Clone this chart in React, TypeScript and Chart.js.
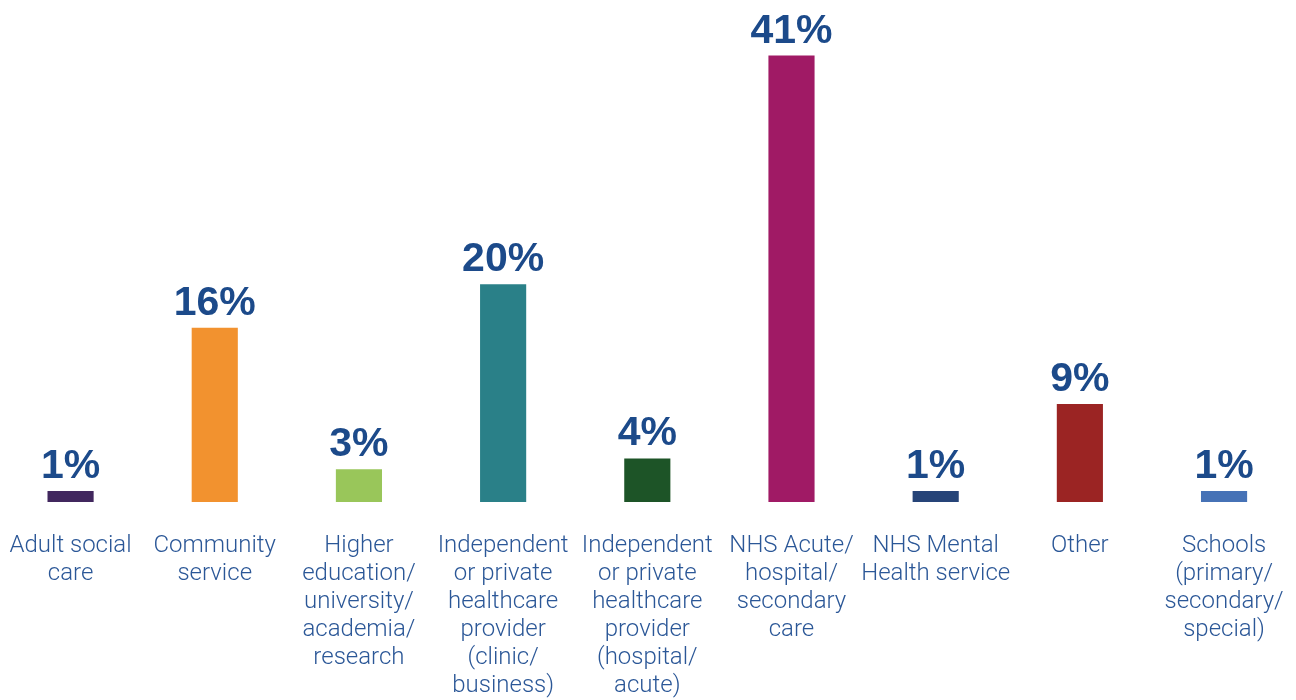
import React, { useEffect, useRef } from "react";
import { Chart, registerables } from "chart.js";

Chart.register(...registerables);

const categories: string[][] = [
  ["Adult social", "care"],
  ["Community", "service"],
  ["Higher", "education/", "university/", "academia/", "research"],
  ["Independent", "or private", "healthcare", "provider", "(clinic/", "business)"],
  ["Independent", "or private", "healthcare", "provider", "(hospital/", "acute)"],
  ["NHS Acute/", "hospital/", "secondary", "care"],
  ["NHS Mental", "Health service"],
  ["Other"],
  ["Schools", "(primary/", "secondary/", "special)"],
];
const values: number[] = [1, 16, 3, 20, 4, 41, 1, 9, 1];
const barColors: string[] = [
  "#41275e",
  "#f2922f",
  "#99c65a",
  "#2a8088",
  "#1d5427",
  "#a01a65",
  "#264478",
  "#9b2423",
  "#4672b6",
];

const labelPlugin = {
  id: "valueLabels",
  afterDatasetsDraw(chart: any) {
    const ctx = chart.ctx;
    const meta = chart.getDatasetMeta(0);
    ctx.save();
    ctx.font = "bold 41px 'Liberation Sans', Arial, sans-serif";
    ctx.fillStyle = "#1c4a8a";
    ctx.textAlign = "center";
    ctx.textBaseline = "alphabetic";
    meta.data.forEach((bar: any, i: number) => {
      ctx.fillText(values[i] + "%", bar.x, bar.y - 13);
    });
    ctx.restore();
  },
};

const W = 1317;
const H = 722;

export default function App() {
  const ref = useRef<HTMLCanvasElement | null>(null);
  useEffect(() => {
    if (!ref.current) return;
    const chart = new Chart(ref.current, {
      type: "bar",
      data: {
        labels: categories,
        datasets: [
          {
            data: values,
            backgroundColor: barColors,
            barPercentage: 0.32,
            categoryPercentage: 1,
          },
        ],
      },
      options: {
        animation: false,
        responsive: false,
        maintainAspectRatio: false,
        layout: { padding: 0 },
        plugins: { legend: { display: false }, tooltip: { enabled: false } },
        scales: {
          x: {
            grid: { display: false },
            border: { display: false },
            ticks: {
              padding: 22,
              color: "#2b5797",
              maxRotation: 0,
              autoSkip: false,
              font: { family: "Roboto, 'Liberation Sans', sans-serif", size: 24, weight: 300, lineHeight: "28px" },
            },
          },
          y: {
            display: false,
            min: 0,
            max: 46.1,
          },
        },
      },
      plugins: [labelPlugin],
    });
    return () => chart.destroy();
  }, []);
  return (
    <div style={{ position: "absolute", left: 0, top: 0, width: 1296, height: 700, overflow: "hidden" }}>
      <div style={{ position: "absolute", left: -12, top: 0, width: W, height: H }}>
        <canvas ref={ref} width={W} height={H} style={{ width: W, height: H, display: "block" }} />
      </div>
    </div>
  );
}
